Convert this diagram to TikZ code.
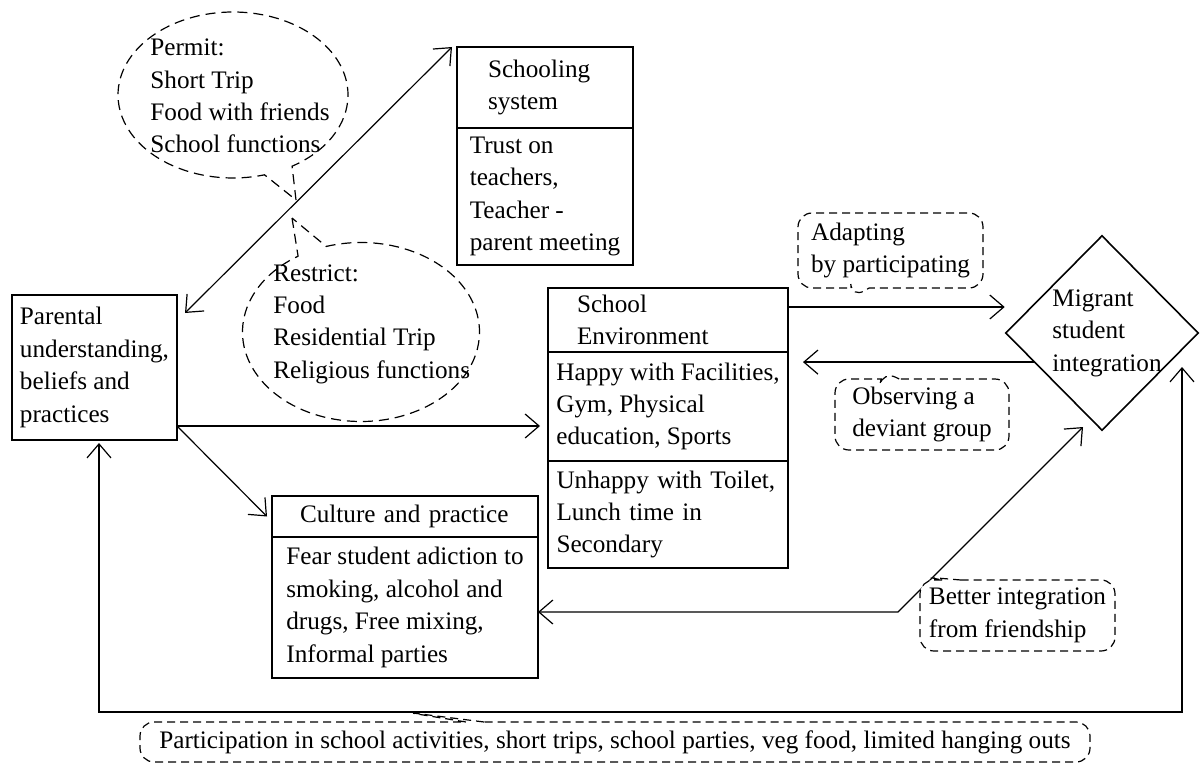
\documentclass[tikz,border=0pt]{standalone}
\usepackage{fontspec}
\setmainfont{Liberation Serif}
\usepackage{tikz}
\usetikzlibrary{positioning}
\usetikzlibrary{arrows.meta}
\usetikzlibrary{shapes.geometric}
\usetikzlibrary{shapes.callouts}
\newcommand{\diagfont}{\fontsize{12.6}{16.2}\selectfont}
\tikzset {
  % boxes and their parts
  part/.style = {draw, rectangle, line width=0.8pt, outer sep=0pt, inner xsep=0pt, inner ysep=1pt, align=left, font=\diagfont},
  % dashed speech bubbles
  bubble/.style = {draw, rectangle callout, rounded corners=7pt, dash pattern=on 4pt off 2.5pt, line width=0.6pt, fill=white, align=left, font=\diagfont, inner sep=2pt, callout pointer width=9pt},
  % dashed clouds next to the parents
  thought/.style = {draw, ellipse callout, dash pattern=on 5pt off 3pt, line width=0.6pt, inner sep=0pt},
  plain/.style = {align=left, font=\diagfont, inner sep=0pt},
  link/.style = {line width=0.6pt},
}

\begin{document}
\begin{tikzpicture}[x=0.5pt, y=-0.5pt, >={Straight Barb[length=7pt,width=12pt]}]
  \useasboundingbox (0,0) rectangle (1203,765);

  % what the parents permit and restrict
  \node[thought, minimum width=115pt, minimum height=83pt, callout absolute pointer={(296,200)}] (permitc) at (233,95) {};
  \node[plain, anchor=west] (permit) at (150,96) {Permit:\\Short Trip\\Food with friends\\School functions};
  \node[thought, minimum width=118.5pt, minimum height=89.5pt, callout absolute pointer={(292,218)}] (restrictc) at (361,332) {};
  \node[plain, anchor=west] (restrict) at (273,324) {Restrict:\\Food\\Residential Trip\\Religious functions};

  % boxes
  \node[part, anchor=north west, minimum width=82.5pt, minimum height=72.5pt] (parent) at (12,295) {Parental\\understanding,\\beliefs and\\practices};
  \node[part, anchor=north west, minimum width=88pt, minimum height=40.5pt, text width=57pt] (schoolhd) at (457,47) {Schooling\\system};
  \node[part, below=0pt of schoolhd, minimum width=88pt, minimum height=68.5pt] (schoolbd) {Trust on\\teachers,\\Teacher -\\parent meeting};
  \node[part, anchor=north west, minimum width=120pt, minimum height=32pt, text width=91pt] (envhd) at (548,288) {School\\Environment};
  \node[part, below=0pt of envhd, minimum width=120pt, minimum height=54.5pt] (envgood) {Happy with Facilities,\\Gym, Physical\\education, Sports};
  \node[part, below=0pt of envgood, minimum width=120pt, minimum height=53.5pt, text width=111.5pt] (envbad) {Unhappy with Toilet,\\Lunch time in\\Secondary};
  \node[part, anchor=north west, minimum width=133pt, minimum height=20.5pt, text width=105pt] (culturehd) at (272,496) {Culture and practice};
  \node[part, below=0pt of culturehd, minimum width=133pt, minimum height=70.5pt] (culturebd) {Fear student adiction to\\smoking, alcohol and\\drugs, Free mixing,\\Informal parties};

  \node[draw, diamond, line width=0.8pt, minimum width=96.5pt, minimum height=97.5pt, inner sep=0pt] (migrant) at (1102,333) {};
  \node[plain, anchor=west] (migranttx) at (1052,333) {Migrant\\student\\integration};

  % connectors
  \coordinate (pe) at ([yshift=7pt]parent.south east);
  \draw[link, <->] ([xshift=4pt,yshift=-9pt]parent.north east) -- ([xshift=-2.5pt]schoolhd.north west);
  \draw[link, ->, shorten >=4pt] (pe) -- (pe -| envgood.west);
  \draw[link, ->] (pe) -- ([xshift=-2.5pt]culturehd.west);

  \coordinate (envout) at ([yshift=-9.5pt]envhd.north east);
  \draw[link, ->] (envout) -- (envout -| migrant.west);
  \draw[link, ->, shorten >=7.5pt] (migrant.203) -- (migrant.203 -| envgood.east);

  \coordinate (bend) at (898,612);
  \coordinate (mtip) at (1083,427);
  \draw[link, <->] (bend -| culturebd.east) -- (bend) -- (mtip);

  \coordinate (loopl) at (99,712);
  \coordinate (loopr) at (1182,712);
  \coordinate (rtip) at (1182,367);
  \draw[link, <->, shorten <=1.5pt] (parent.south -| loopl) -- (loopl) -- (loopr) -- (rtip);

  % labels on the connectors
  \node[bubble, minimum width=92.5pt, minimum height=37.5pt, callout absolute pointer={(852,298)}] (adapt) at (890.5,250.5) {Adapting\\by participating};
  \node[bubble, minimum width=87pt, minimum height=35.5pt, callout absolute pointer={(883,371)}] (observe) at (922,414.5) {Observing a\\deviant group};
  \node[bubble, minimum width=97.5pt, minimum height=35.5pt, callout absolute pointer={(925,577)}] (better) at (1017.5,615.5) {Better integration\\from friendship};
  \node[bubble, minimum width=475pt, minimum height=20pt, callout absolute pointer={(405,712)}] (particip) at (615,742) {Participation in school activities, short trips, school parties, veg food, limited hanging outs};
\end{tikzpicture}
\end{document}
